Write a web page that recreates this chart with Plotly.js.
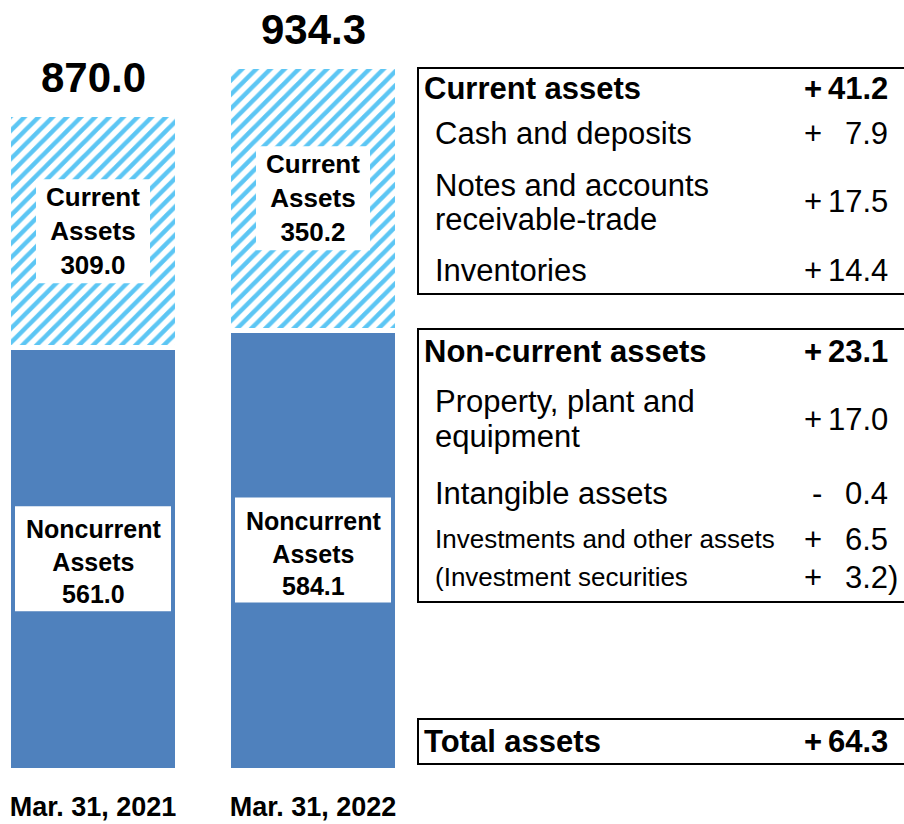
<!DOCTYPE html>
<html><head><meta charset="utf-8">
<script src="https://cdn.plot.ly/plotly-3.0.1.min.js"></script>
<style>html,body{margin:0;padding:0;background:#fff;} #chart{width:904px;height:824px;}</style>
</head><body><div id="chart"></div>
<script>
// ---------- data ----------
const categories = ['Mar. 31, 2021', 'Mar. 31, 2022'];
const currentAssets = [309.0, 350.2];
const noncurrentAssets = [561.0, 584.1];
const totalAssets = [870.0, 934.3];

const sectionTitles = ['Current assets', 'Non-current assets', 'Total assets'];
const sectionChanges = [41.2, 23.1, 64.3];
const currentItemLines = [['Cash and deposits'], ['Notes and accounts', 'receivable-trade'], ['Inventories']];
const currentItemChanges = [7.9, 17.5, 14.4];
const noncurrentItemLines = [['Property, plant and', 'equipment'], ['Intangible assets'], ['Investments and other assets'], ['(Investment securities']];
const noncurrentItemChanges = [17.0, -0.4, 6.5, 3.2];

// ---------- layout constants ----------
const W = 904, H = 824, MB = 54, PH = H - MB;
const SCALE = 0.753;              // px per unit
const X0PX = 93, XSTEP = 220;
const FONT = 'Liberation Sans, Arial, sans-serif';
const STRIPE = '#5cc6f4';
const SOLID = '#4f81bd';
const px = x => x / W;
const py = y => 1 - y / PH;

const xs = categories.map((_, i) => i);

const traces = [
  {type: 'bar', x: xs, y: noncurrentAssets, width: 0.764, hoverinfo: 'skip',
   marker: {color: SOLID, line: {color: 'white', width: 5}}},
  {type: 'bar', x: xs, y: currentAssets, width: 0.764, hoverinfo: 'skip',
   marker: {color: 'white', line: {color: 'white', width: 5},
            pattern: {shape: '/', fgcolor: STRIPE, bgcolor: 'white', size: 10, solidity: 0.45, fillmode: 'replace'}}}
];

const annotations = [];
const shapes = [];

// totals above bars
xs.forEach(i => {
  annotations.push({x: i, y: totalAssets[i], xref: 'x', yref: 'y', showarrow: false,
    yanchor: 'middle', yshift: 37, text: '<b>' + totalAssets[i].toFixed(1) + '</b>',
    font: {family: FONT, size: 42, color: 'black'}});
});

// labels inside bars
function barLabel(i, yMid, lines, boxW, boxH, size, offsets) {
  shapes.push({type: 'rect', xref: 'x', yref: 'y', xsizemode: 'pixel', ysizemode: 'pixel',
    xanchor: i, yanchor: yMid, x0: -boxW / 2, x1: boxW / 2, y0: -boxH / 2, y1: boxH / 2,
    fillcolor: 'white', line: {width: 0}, layer: 'above'});
  annotations.push({x: i, y: yMid, xref: 'x', yref: 'y', showarrow: false, yanchor: 'middle',
    yshift: -offsets, text: '<b>' + lines.join('<br>') + '</b>', font: {family: FONT, size: size, color: 'black'}});
}
xs.forEach(i => {
  barLabel(i, noncurrentAssets[i] + currentAssets[i] / 2,
    ['Current', 'Assets', currentAssets[i].toFixed(1)], 114, 104, 26, 0);
  barLabel(i, noncurrentAssets[i] / 2,
    ['Noncurrent', 'Assets', noncurrentAssets[i].toFixed(1)], 156, 105, 25, 3);
});

// ---------- change table ----------
const BOX_X0 = 418, BOX_X1 = 914;
const boxes = [[68, 294], [329, 602], [719, 764]];
boxes.forEach(b => shapes.push({type: 'rect', xref: 'paper', yref: 'paper',
  x0: px(BOX_X0), x1: px(BOX_X1), y0: py(b[1]), y1: py(b[0]),
  line: {color: 'black', width: 2}, fillcolor: 'rgba(0,0,0,0)'}));

const SIGN_X = 813, NUM_X = 889;
function textAt(x, y, t, size, anchor, bold) {
  annotations.push({x: px(x), y: py(y), xref: 'paper', yref: 'paper', showarrow: false,
    xanchor: anchor, yanchor: 'middle', borderpad: 0, text: bold ? '<b>' + t + '</b>' : t,
    font: {family: FONT, size: size, color: 'black'}});
}
function change(y, v, bold, suffix) {
  const sign = v >= 0 ? '+' : '-';
  textAt(sign === '+' ? SIGN_X : SIGN_X + 4, y, sign, 31, 'center', bold);
  const s = suffix || '';
  textAt(NUM_X + (s ? 10 : 0), y, Math.abs(v).toFixed(1) + s, 31, 'right', bold);
}

const LEFT_HEAD = 423, LEFT_ITEM = 434;
const headerY = [89, 352, 741];
sectionTitles.forEach((t, k) => {
  textAt(LEFT_HEAD, headerY[k], t, 31, 'left', true);
  change(headerY[k], sectionChanges[k], true);
});

const curLineY = [[134], [185, 219], [270]];
const curValY = [134, 202, 270];
currentItemLines.forEach((lines, k) => {
  lines.forEach((t, j) => textAt(LEFT_ITEM, curLineY[k][j], t, 31, 'left', false));
  change(curValY[k], currentItemChanges[k], false);
});

const ncLineY = [[401, 436], [493], [539], [577]];
const ncValY = [419, 493, 539, 577];
const ncSize = [31, 31, 26, 26];
noncurrentItemLines.forEach((lines, k) => {
  lines.forEach((t, j) => textAt(LEFT_ITEM, ncLineY[k][j], t, ncSize[k], 'left', false));
  change(ncValY[k], noncurrentItemChanges[k], false, k === noncurrentItemLines.length - 1 ? ')' : '');
});

const layout = {
  width: W, height: H,
  margin: {l: 0, r: 0, t: 0, b: MB, pad: 0},
  paper_bgcolor: 'white', plot_bgcolor: 'white',
  showlegend: false, barmode: 'stack',
  xaxis: {type: 'linear', range: [-X0PX / XSTEP, (W - X0PX) / XSTEP], showgrid: false, zeroline: false,
    showline: false, ticks: '', tickvals: xs, ticktext: categories.map(c => '<b>' + c + '</b>'),
    ticklabeloverflow: 'allow', ticklabelstandoff: 18,
    tickfont: {family: FONT, size: 27, color: 'black'}, fixedrange: true},
  yaxis: {range: [0, PH / SCALE], visible: false, fixedrange: true},
  annotations: annotations,
  shapes: shapes
};

Plotly.newPlot('chart', traces, layout, {displayModeBar: false, staticPlot: true});
</script>
</body></html>
